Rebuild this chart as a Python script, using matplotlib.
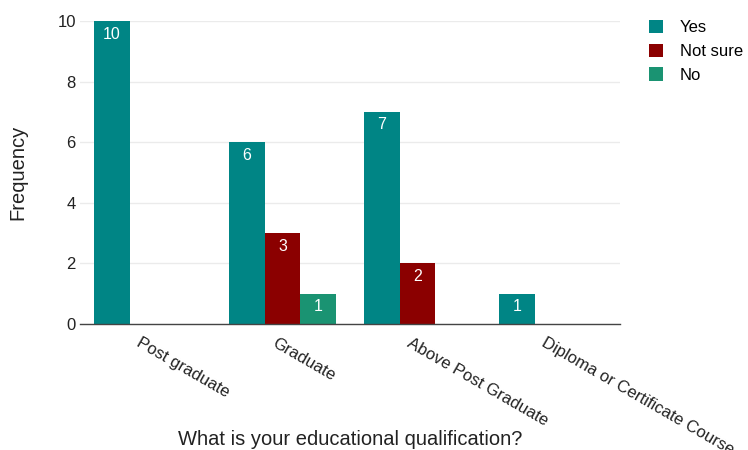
import numpy as np
import matplotlib
matplotlib.use("Agg")
import matplotlib.pyplot as plt
from matplotlib.patches import Patch
from matplotlib.transforms import ScaledTranslation

# 数据
categories = ["Post graduate", "Graduate", "Above Post Graduate", "Diploma or Certificate Course"]
series_names = ["Yes", "Not sure", "No"]
yes_counts = [10, 6, 7, 1]
not_sure_counts = [0, 3, 2, 0]
no_counts = [0, 1, 0, 0]
colors = ["#008585", "#8B0000", "#1A9372"]

plt.rcParams["font.family"] = ["Liberation Sans", "DejaVu Sans"]

fig = plt.figure(figsize=(7.48, 4.5), dpi=100)
ax = fig.add_axes([80 / 748, 1 - 324 / 450, 540 / 748, 303 / 450])

x = np.arange(len(categories))
width = 0.265
series = [yes_counts, not_sure_counts, no_counts]
for i, (name, vals, col) in enumerate(zip(series_names, series, colors)):
    pos = x + (i - 1) * width
    ax.bar(pos, vals, width, color=col, label=name, zorder=2)
    # 柱顶内部的数值标注
    for px, v in zip(pos, vals):
        if v > 0:
            ax.annotate(str(v), xy=(px, v), xytext=(0, -4), textcoords="offset points",
                        ha="center", va="top", color="white", fontsize=11.5, zorder=3)

# 坐标轴
ax.set_xlim(-0.5, 3.5)
ax.set_ylim(0, 10)
ax.set_yticks(np.arange(0, 11, 2))
ax.grid(axis="y", color="#EBEBEB", linewidth=1, zorder=0)
for s in ["top", "right", "left"]:
    ax.spines[s].set_visible(False)
ax.spines["bottom"].set_color("#444444")
ax.spines["bottom"].set_linewidth(1)
ax.tick_params(axis="both", length=0, labelsize=12, colors="#222222")
ax.tick_params(axis="y", pad=3)
ax.tick_params(axis="x", pad=8)

ax.set_xticks(x)
ax.set_xticklabels(categories, rotation=-30, ha="left", va="top", rotation_mode="anchor")
for lab in ax.get_xticklabels():
    lab.set_transform(lab.get_transform() + ScaledTranslation(-4 / 72, 0, fig.dpi_scale_trans))

ax.set_ylabel("Frequency", fontsize=14.5, color="#222222")
ax.yaxis.set_label_coords(-0.098, 0.5)
ax.set_xlabel("What is your educational qualification?", fontsize=14.5, color="#222222")
ax.xaxis.set_label_coords(0.5, -0.35)

# 图例
handles = [Patch(facecolor=c, edgecolor="none") for c in colors]
fig.legend(handles, series_names, loc="upper left", bbox_to_anchor=(649 / 748, 1 - 20 / 450),
           frameon=False, fontsize=12, handlelength=0.85, handleheight=0.85,
           handletextpad=1.0, labelspacing=0.5, borderaxespad=0, borderpad=0)

fig.savefig("out.png", dpi=100)
